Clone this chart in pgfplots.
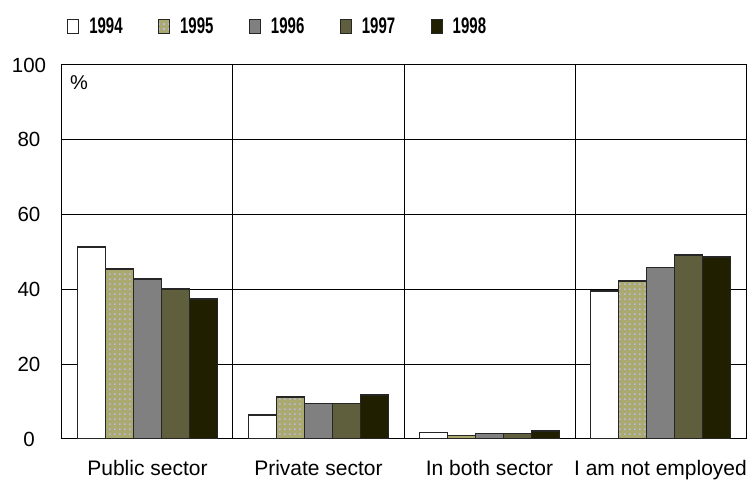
\documentclass[border=0pt]{standalone}
\usepackage{pgfplots}
\pgfplotsset{compat=1.18}
\usepackage{fontspec}
\setmainfont{Liberation Sans}
\usetikzlibrary{patterns}
\definecolor{c95}{RGB}{170,170,112}
\definecolor{c95dot}{RGB}{185,185,225}
\definecolor{c96}{RGB}{128,128,128}
\definecolor{c97}{RGB}{95,95,62}
\definecolor{c98}{RGB}{32,32,0}
\pgfdeclarepatternformonly{bigdots}{\pgfpointorigin}{\pgfqpoint{4.5pt}{4.5pt}}{\pgfqpoint{4.5pt}{4.5pt}}{%
  \pgfpathrectangle{\pgfqpoint{1.2pt}{1.2pt}}{\pgfqpoint{1.8pt}{1.8pt}}\pgfusepath{fill}}
\newcommand{\leglab}[1]{\scalebox{1}[1.5]{#1}}
\begin{document}
\begin{tikzpicture}
\begin{axis}[
  name=ax,
  width=684pt, height=374pt, scale only axis,
  ybar=0pt, bar width=0.1637,
  xmin=-0.5, xmax=3.5, ymin=0, ymax=100,
  xtick={0,1,2,3},
  xticklabels={Public sector,Private sector,In both sector,I am not employed},
  minor xtick={0.5,1.5,2.5},
  ytick={0,20,40,60,80,100},
  ymajorgrids=true, xminorgrids=true,
  grid style={black, line width=1pt},
  minor grid style={black, line width=1pt},
  major tick length=0pt, minor tick length=0pt,
  axis line style={black, line width=1pt},
  /pgf/number format/assume math mode=true,
  yticklabel style={font=\fontsize{20.5}{24}\selectfont, anchor=center, xshift=-33pt},
  xticklabel style={font=\fontsize{21}{24}\selectfont, yshift=-18pt},
  legend columns=5,
  legend style={at={(0.003,1.104)}, anchor=west, draw=none, fill=none,
    font=\fontsize{15}{18}\selectfont\bfseries,
    /tikz/every even column/.append style={column sep=33.5pt},
    /tikz/every odd column/.append style={column sep=8pt}},
  legend image code/.code={\draw[#1, line width=1pt] (0pt,-7pt) rectangle (11pt,7pt);},
  every axis plot/.append style={draw=black!85, line width=1.5pt},
]
\addplot[fill=white] coordinates {(0,51.3) (1,6.4) (2,1.8) (3,39.6)};
\addplot[fill=c95, postaction={pattern=bigdots, pattern color=c95dot}] coordinates {(0,45.5) (1,11.2) (2,1.0) (3,42.2)};
\addplot[fill=c96] coordinates {(0,42.8) (1,9.5) (2,1.5) (3,45.9)};
\addplot[fill=c97] coordinates {(0,40.1) (1,9.5) (2,1.5) (3,49.2)};
\addplot[fill=c98] coordinates {(0,37.4) (1,11.8) (2,2.1) (3,48.6)};
\legend{\leglab{1994},\leglab{1995},\leglab{1996},\leglab{1997},\leglab{1998}}
\node[font=\fontsize{20}{24}\selectfont] at (rel axis cs:0.025,0.952) {\%};
\end{axis}
\pgfresetboundingbox
\path ([xshift=-62pt,yshift=-42pt]ax.south west) rectangle ([xshift=1pt,yshift=65pt]ax.north east);
\end{tikzpicture}
\end{document}
